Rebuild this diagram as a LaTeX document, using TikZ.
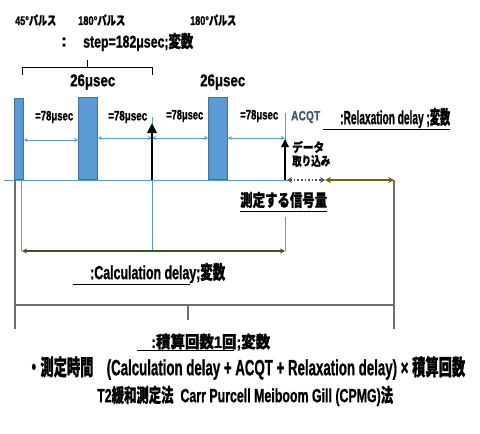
\documentclass[tikz,border=0pt]{standalone}
\usepackage{fontspec}
\usepackage{graphicx}
\setmainfont{Liberation Sans}[BoldFeatures={FakeBold=1.2}]
\newfontfamily\jp{Noto Sans CJK JP}[BoldFeatures={FakeBold=1}]
\usetikzlibrary{arrows.meta}
\definecolor{pulse}{HTML}{5B9BD5}
\definecolor{pulseedge}{HTML}{41719C}
\definecolor{dgreen}{HTML}{385723}
\definecolor{ochre}{HTML}{7F6000}
\definecolor{slate}{HTML}{44546A}
\definecolor{midgray}{HTML}{6F6F6F}
\newcommand\fitw[2]{\resizebox{#1pt}{\height}{#2}}
\newcommand\fs[1]{\fontsize{#1}{#1}\selectfont}
\begin{document}
\begin{tikzpicture}[x=1pt,y=-1pt,
  txt/.style={inner sep=0pt, anchor=west, font=\bfseries},
  pulsebox/.style={fill=pulse, draw=pulseedge, line width=0.8pt, inner sep=0pt, anchor=south west},
  bl/.style={draw=pulse, line width=1pt},
  dimarrow/.style={draw=pulse, line width=1pt, {Stealth[length=4pt,width=4pt]}-{Stealth[length=4pt,width=4pt]}},
  bigarrow/.style={draw=black, line width=2.6pt, -{Triangle[length=10pt,width=9pt]}},
  grayline/.style={draw=midgray, line width=1.3pt},
  uline/.style={draw=black, line width=0.9pt}]
\useasboundingbox (0,0) rectangle (480,434);

% pulses
\node[pulsebox, minimum width=9pt, minimum height=81pt] (p45) at (14,180) {};
\node[pulsebox, minimum width=19pt, minimum height=82pt] (pa) at (78,180) {};
\node[pulsebox, minimum width=19pt, minimum height=82pt] (pb) at (208,180) {};

% key coordinates
\coordinate (base0) at (4,180);
\coordinate (base1) at (290,180);
\coordinate (echoTop) at (152,117);
\coordinate (echoBase) at (152,180);
\coordinate (echoTip) at (152,123);
\coordinate (echoLow) at (152,251);
\coordinate (acqTop) at (285,113);
\coordinate (acqBase) at (285,180);
\coordinate (acqTip) at (285,139);
\coordinate (acqMid) at (285,217);
\coordinate (acqLow) at (285,251);
\coordinate (p45Base) at (21.5,180);
\coordinate (p45Low) at (21.5,251);
\coordinate (gl0) at (15,180);
\coordinate (gl1) at (15,329);
\coordinate (gr0) at (394,180);
\coordinate (gr1) at (394,329);
\coordinate (gh0) at (15,305);
\coordinate (gh1) at (394,305);
\coordinate (gt0) at (188,305);
\coordinate (gt1) at (188,320);
\coordinate (dot0) at (287,180);
\coordinate (dot1) at (325,180);

% baseline and guide lines
\draw[bl] (base0) -- (base1);
\draw[bl, line width=0.8pt] (echoTop) -- (echoLow);
\draw[bl, line width=0.8pt] (acqTop) -- (acqBase);
\draw[bl, line width=0.8pt] (acqMid) -- (acqLow);
\draw[bl, line width=0.8pt] (p45Base) -- (p45Low);

% gray bracket
\draw[grayline] (gl0) -- (gl1);
\draw[grayline] (gr0) -- (gr1);
\draw[grayline] (gh0) -- (gh1);
\draw[grayline] (gt0) -- (gt1);

% 78 us dimension arrows
\draw[dimarrow] (p45.east |- 0,140) -- (pa.west |- 0,140);
\draw[dimarrow] (pa.east |- 0,138) -- (echoBase |- 0,138);
\draw[dimarrow] (echoBase |- 0,138) -- (pb.west |- 0,138);
\draw[dimarrow] (pb.east |- 0,138) -- (acqBase |- 0,138);

% black arrows
\draw[bigarrow] (echoBase) -- (echoTip);
\draw[bigarrow, line width=2.2pt, -{Triangle[length=8pt,width=7.5pt]}] (acqBase) -- (acqTip);

% acquisition and relaxation arrows
\draw[draw=slate, line width=1.6pt, dotted, {Stealth[length=5pt,width=6pt]}-{Stealth[length=5pt,width=6pt]}] (dot0) -- (dot1);
\draw[draw=ochre, line width=2pt, {Stealth[length=6pt,width=6pt]}-{Stealth[length=6pt,width=6pt]}] (dot1) -- (gr0);

% calculation delay arrow
\draw[draw=dgreen, line width=1.6pt, {Stealth[length=5pt,width=5pt]}-{Stealth[length=5pt,width=5pt]}] (22,251) -- (acqLow);

% brace
\coordinate (br0) at (22,75);
\coordinate (br1) at (22,67);
\coordinate (br2) at (152,67);
\coordinate (br3) at (152,75);
\coordinate (brm0) at (87,67);
\coordinate (brm1) at (87,60);
\draw[line width=1pt] (br0) -- (br1) -- (br2) -- (br3);
\draw[line width=1pt] (brm0) -- (brm1);

% labels
\node[txt, font=\bfseries\fs{12.5}] (l45) at (15,20) {\fitw{41}{45°{\jp パルス}}};
\node[txt, font=\bfseries\fs{12.5}] (l180a) at (78,20) {\fitw{47}{180°{\jp パルス}}};
\node[txt, font=\bfseries\fs{12.5}] (l180b) at (190,20) {\fitw{46}{180°{\jp パルス}}};
\node[txt, font=\bfseries\fs{17}] (colon) at (61,42) {:};
\node[txt, font=\bfseries\fs{17}] (step) at (83,42) {\fitw{110}{step=182μsec;{\jp 変数}}};
\node[txt, font=\bfseries\fs{17}] (t26a) at (70,82) {\fitw{45}{26μsec}};
\node[txt, font=\bfseries\fs{17}] (t26b) at (200,82) {\fitw{45}{26μsec}};

\node[txt, font=\bfseries\fs{13.5}] (d1) at (35,117) {\fitw{38}{=78μsec}};
\node[txt, font=\bfseries\fs{13.5}] (d2) at (108,117) {\fitw{39}{=78μsec}};
\node[txt, font=\bfseries\fs{13.5}] (d3) at (166,116) {\fitw{37}{=78μsec}};
\node[txt, font=\bfseries\fs{13.5}] (d4) at (240,116) {\fitw{38}{=78μsec}};
\node[txt, font=\bfseries\fs{13.5}, text=slate] (acqt) at (291,117) {\fitw{29}{ACQT}};

\node[txt, font=\bfseries\fs{19}] (relax) at (340,118) {\fitw{110}{:Relaxation delay ;{\jp 変数}}};
\draw[uline] (323,129) -- (relax.east |- 0,129);

\node[txt, font=\bfseries\fs{12.5}] (data1) at (292,147) {\fitw{32}{\jp データ}};
\node[txt, font=\bfseries\fs{12.5}] (data2) at (292,161) {\fitw{38}{\jp 取り込み}};

\node[txt, font=\bfseries\fs{17}] (sig) at (240,200) {\fitw{87}{\jp 測定する信号量}};
\draw[uline] (sig.west |- 0,211) -- (sig.east |- 0,211);

\node[txt, font=\bfseries\fs{19}] (calc) at (90,273) {\fitw{135}{:Calculation delay;{\jp 変数}}};
\draw[uline] (73,284) -- (190,284);

\node[txt, font=\bfseries\fs{16.5}] (accum) at (151,342) {\fitw{119}{:{\jp 積算回数}1{\jp 回};{\jp 変数}}};
\draw[uline] (137,350) -- (234,350);

\node[txt, font=\bfseries\fs{22}] (formula) at (27,368) {\fitw{438}{{\jp ・測定時間}\quad(Calculation delay + ACQT + Relaxation delay) × {\jp 積算回数}}};
\node[txt, font=\bfseries\fs{19}] (title) at (97,396) {\fitw{296}{T2{\jp 緩和測定法}\ \ Carr Purcell Meiboom Gill (CPMG){\jp 法}}};
\end{tikzpicture}
\end{document}
